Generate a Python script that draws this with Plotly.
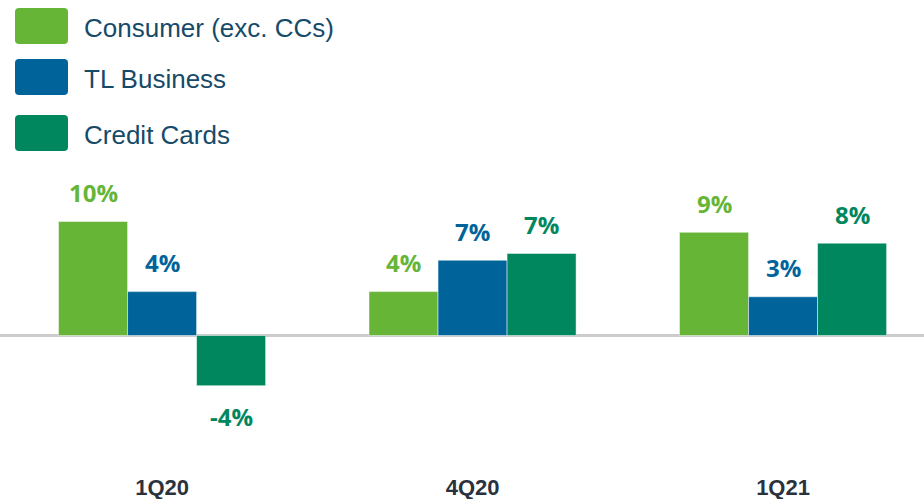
import plotly.graph_objects as go

categories = ["1Q20", "4Q20", "1Q21"]
series_names = ["Consumer (exc. CCs)", "TL Business", "Credit Cards"]
consumer = [10.0, 3.85, 9.05]
tl_business = [3.85, 6.6, 3.4]
credit_cards = [-4.4, 7.2, 8.1]
consumer_labels = ["10%", "4%", "9%"]
tl_labels = ["4%", "7%", "3%"]
cc_labels = ["-4%", "7%", "8%"]

colors = ["#66b537", "#00649b", "#00875e"]
series_values = [consumer, tl_business, credit_cards]
series_labels = [consumer_labels, tl_labels, cc_labels]

W, H = 924, 499
PLOT_TOP, PLOT_BOT = 160, 466
BARGAP = 0.333

fig = go.Figure()
for name, vals, col in zip(series_names, series_values, colors):
    fig.add_trace(go.Bar(
        x=categories, y=vals, name=name,
        marker=dict(color=col, line=dict(color="rgba(255,255,255,0.6)", width=0.8)),
        hoverinfo="skip",
    ))

# value labels
nser = len(series_values)
bw = (1 - BARGAP) / nser
for s, (vals, labs, col) in enumerate(zip(series_values, series_labels, colors)):
    off = (s - (nser - 1) / 2) * bw
    for i, (v, t) in enumerate(zip(vals, labs)):
        fig.add_annotation(
            x=i + off, y=v, xref="x", yref="y", text=t, showarrow=False,
            yanchor="middle", xanchor="center", yshift=29 if v >= 0 else -31,
            font=dict(family="'Open Sans', Lato, sans-serif", size=24, color=col, weight="bold"),
        )

# custom legend (large rounded swatches)
def px_to_paper_y(py):
    return (PLOT_BOT - py) / (PLOT_BOT - PLOT_TOP)

def rounded_rect(x0, y0, x1, y1, r):
    X = lambda v: v / W
    Y = lambda v: px_to_paper_y(v)
    p = (f"M {X(x0 + r)},{Y(y0)} L {X(x1 - r)},{Y(y0)} Q {X(x1)},{Y(y0)} {X(x1)},{Y(y0 + r)} "
         f"L {X(x1)},{Y(y1 - r)} Q {X(x1)},{Y(y1)} {X(x1 - r)},{Y(y1)} "
         f"L {X(x0 + r)},{Y(y1)} Q {X(x0)},{Y(y1)} {X(x0)},{Y(y1 - r)} "
         f"L {X(x0)},{Y(y0 + r)} Q {X(x0)},{Y(y0)} {X(x0 + r)},{Y(y0)} Z")
    return p

legend_rows_px = [26, 77, 133]
for name, col, cy in zip(series_names, colors, legend_rows_px):
    fig.add_shape(type="path", xref="paper", yref="paper",
                  path=rounded_rect(15, cy - 18, 68, cy + 18, 4),
                  fillcolor=col, line=dict(width=0))
    fig.add_annotation(x=82 / W, y=px_to_paper_y(cy + 2), xref="paper", yref="paper",
                       text=name, showarrow=False, xanchor="left", yanchor="middle",
                       font=dict(family="'Liberation Sans', Arial, sans-serif",
                                 size=26, color="#164a69"))

# axis scale: zero at y=335.5 px, 11.4 px per %
ZERO_PX, PX_PER = 335.5, 11.4
ymax = (ZERO_PX - PLOT_TOP) / PX_PER
ymin = -(PLOT_BOT - ZERO_PX) / PX_PER

fig.update_layout(
    width=W, height=H,
    margin=dict(l=0, r=0, t=PLOT_TOP, b=H - PLOT_BOT),
    plot_bgcolor="white", paper_bgcolor="white",
    barmode="group", bargap=BARGAP, bargroupgap=0,
    showlegend=False,
    xaxis=dict(range=[-0.522, 2.454], showgrid=False, showline=False, ticks="",
               automargin=False,
               tickfont=dict(family="'Liberation Sans', Arial, sans-serif",
                             size=22, color="#2a323d", weight="bold"),
               ticklabelstandoff=6),
    yaxis=dict(range=[ymin, ymax], showgrid=False, showticklabels=False, zeroline=True,
               automargin=False, zerolinecolor="#cccccc", zerolinewidth=2.5),
)

fig.write_html("out.html", config={"displayModeBar": False},
               post_script="document.body.style.margin='0';document.body.style.overflow='hidden';")
